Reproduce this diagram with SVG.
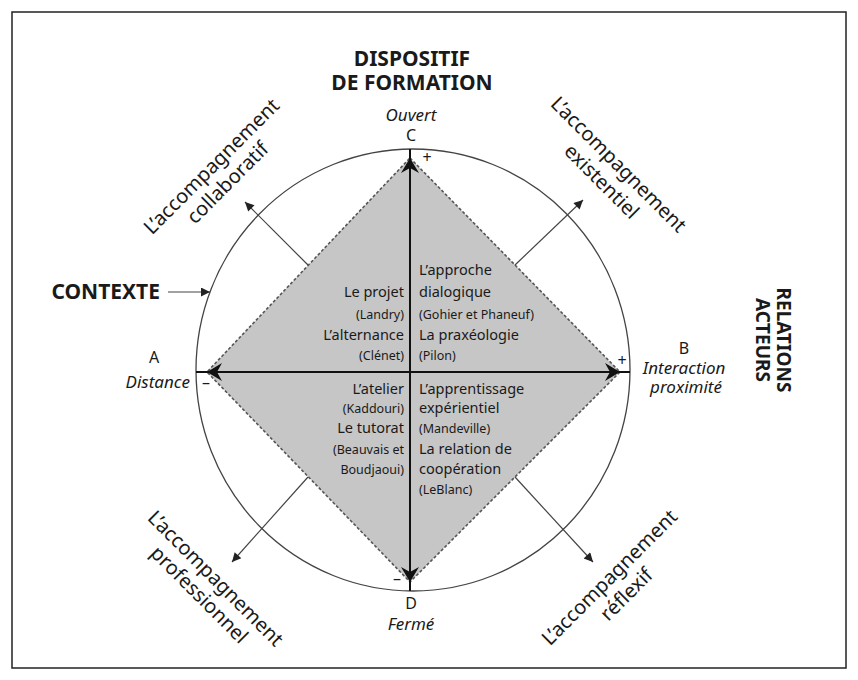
<svg xmlns="http://www.w3.org/2000/svg" width="858" height="680" viewBox="0 0 858 680">
<defs>
<style>
.t{font-family:"Noto Sans","Open Sans","Liberation Sans",sans-serif;fill:#1a1a1a}
.b{font-weight:bold;font-size:21px}
.r{font-weight:bold;font-size:19px}
.it{font-style:italic;font-size:17px}
.lt{font-size:16px}
.m{font-size:14.5px}
.p{font-size:12.5px}
.d{font-size:20px}
.ln{stroke:#444;stroke-width:1.2;fill:none}
.ax{stroke:#111;stroke-width:2;fill:none}
.ahd{fill:#111}
</style>
<marker id="ah" viewBox="0 0 10 10" refX="10" refY="5" markerWidth="11" markerHeight="9" markerUnits="userSpaceOnUse" orient="auto">
<path d="M0,0 L10,5 L0,10 z" fill="#222"/>
</marker>
</defs>
<rect x="0" y="0" width="858" height="680" fill="#fff"/>
<rect x="12" y="12" width="834" height="656" fill="none" stroke="#222" stroke-width="1.5"/>

<g id="circle-contexte">
<ellipse cx="413" cy="370" rx="217" ry="221" fill="none" stroke="#444" stroke-width="1.3"/>
</g>

<g id="diamond">
<polygon points="410,158 620,372 410,582 207,372" fill="#c6c6c6" stroke="#555" stroke-width="1.6" stroke-dasharray="3 2"/>
</g>

<g id="connectors">
<line class="ax" x1="410" y1="149" x2="410" y2="591"/>
<line class="ax" x1="196" y1="372" x2="630" y2="372"/>
<polygon class="ahd" points="410,158 419,173 410,168 401,173"/>
<polygon class="ahd" points="410,582 419,567 410,572 401,567"/>
<polygon class="ahd" points="207,372 222,363 217,372 222,381"/>
<polygon class="ahd" points="620,372 605,363 610,372 605,381"/>
<line class="ln" x1="308" y1="265" x2="245" y2="202" marker-end="url(#ah)"/>
<line class="ln" x1="515" y1="265" x2="583" y2="200" marker-end="url(#ah)"/>
<line class="ln" x1="308" y1="477" x2="232" y2="562" marker-end="url(#ah)"/>
<line class="ln" x1="515" y1="477" x2="593" y2="562" marker-end="url(#ah)"/>
<line class="ln" x1="168" y1="292" x2="210" y2="292" marker-end="url(#ah)"/>
</g>

<g id="title-dispositif">
<text class="t b" x="412" y="66" text-anchor="middle">DISPOSITIF</text>
<text class="t b" x="412" y="90" text-anchor="middle">DE FORMATION</text>
</g>

<g id="label-contexte">
<text class="t b" x="160" y="299" text-anchor="end">CONTEXTE</text>
</g>

<g id="title-relations">
<g transform="translate(777,340) rotate(90)">
<text class="t r" x="0" y="0" text-anchor="middle">RELATIONS</text>
<text class="t r" x="0" y="21" text-anchor="middle">ACTEURS</text>
</g>
</g>

<g id="pole-c">
<text class="t it" x="411" y="121" text-anchor="middle">Ouvert</text>
<text class="t lt" x="411" y="141" text-anchor="middle">C</text>
<text class="t lt" x="427" y="163" text-anchor="middle">+</text>
</g>

<g id="pole-a">
<text class="t lt" x="154" y="363" text-anchor="middle">A</text>
<text class="t it" x="190" y="388" text-anchor="end">Distance</text>
<text class="t lt" x="206" y="388" text-anchor="middle">–</text>
</g>

<g id="pole-b">
<text class="t lt" x="684" y="354" text-anchor="middle">B</text>
<text class="t it" x="684" y="374" text-anchor="middle">Interaction</text>
<text class="t it" x="686" y="393" text-anchor="middle">proximité</text>
<text class="t lt" x="622" y="366" text-anchor="middle">+</text>
</g>

<g id="pole-d">
<text class="t lt" x="397" y="584" text-anchor="middle">–</text>
<text class="t lt" x="411" y="609" text-anchor="middle">D</text>
<text class="t it" x="411" y="630" text-anchor="middle">Fermé</text>
</g>

<g id="quadrant-top-left">
<text class="t m" x="404" y="297" text-anchor="end">Le projet</text>
<text class="t p" x="404" y="319" text-anchor="end">(Landry)</text>
<text class="t m" x="404" y="340" text-anchor="end">L’alternance</text>
<text class="t p" x="404" y="360" text-anchor="end">(Clénet)</text>
</g>

<g id="quadrant-top-right">
<text class="t m" x="419" y="275">L’approche</text>
<text class="t m" x="419" y="297">dialogique</text>
<text class="t p" x="419" y="319">(Gohier et Phaneuf)</text>
<text class="t m" x="419" y="340">La praxéologie</text>
<text class="t p" x="419" y="360">(Pilon)</text>
</g>

<g id="quadrant-bottom-left">
<text class="t m" x="404" y="394" text-anchor="end">L’atelier</text>
<text class="t p" x="404" y="413" text-anchor="end">(Kaddouri)</text>
<text class="t m" x="404" y="433" text-anchor="end">Le tutorat</text>
<text class="t p" x="404" y="454" text-anchor="end">(Beauvais et</text>
<text class="t p" x="404" y="474" text-anchor="end">Boudjaoui)</text>
</g>

<g id="quadrant-bottom-right">
<text class="t m" x="419" y="394">L’apprentissage</text>
<text class="t m" x="419" y="413">expérientiel</text>
<text class="t p" x="419" y="433">(Mandeville)</text>
<text class="t m" x="419" y="454">La relation de</text>
<text class="t m" x="419" y="474">coopération</text>
<text class="t p" x="419" y="494">(LeBlanc)</text>
</g>

<g id="acc-collaboratif">
<g transform="translate(212,167) rotate(-45)">
<text class="t d" x="0" y="6" text-anchor="middle">L’accompagnement</text>
<text class="t d" x="0" y="29" text-anchor="middle">collaboratif</text>
</g>
</g>

<g id="acc-existentiel">
<g transform="translate(618,165) rotate(45)">
<text class="t d" x="0" y="6" text-anchor="middle">L’accompagnement</text>
<text class="t d" x="0" y="30" text-anchor="middle">existentiel</text>
</g>
</g>

<g id="acc-professionnel">
<g transform="translate(215,579) rotate(45)">
<text class="t d" x="0" y="6" text-anchor="middle">L’accompagnement</text>
<text class="t d" x="0" y="29" text-anchor="middle">professionnel</text>
</g>
</g>

<g id="acc-reflexif">
<g transform="translate(610,578) rotate(-45)">
<text class="t d" x="0" y="6" text-anchor="middle">L’accompagnement</text>
<text class="t d" x="0" y="30" text-anchor="middle">réflexif</text>
</g>
</g>
</svg>
